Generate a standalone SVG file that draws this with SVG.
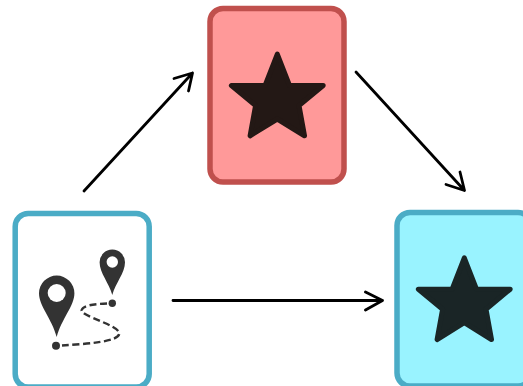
<svg xmlns="http://www.w3.org/2000/svg" width="523" height="386" viewBox="0 0 523 386">
<style>
.box{stroke-width:5.5}
.star{stroke-linejoin:round;stroke-width:5}
.conn{fill:none;stroke:#000;stroke-width:2.8;stroke-linecap:round;stroke-linejoin:round}
.pin{fill:#333}
</style>
<defs>
<polygon id="star" points="277.3,54.2 289.5,85.5 323.2,85.5 299,105.5 304.5,135.8 277.3,119 250.1,135.8 255.6,105.5 231.4,85.5 265.1,85.5"/>
</defs>
<rect width="523" height="386" fill="#fff"/>
<g id="node-route">
<rect class="box" x="15.2" y="213.5" width="134" height="173.5" rx="13" fill="#fff" stroke="#4bacc6"/>
<path class="pin" d="M56.7 337 C52 319 39 306 39 293.3 A17.7 17.7 0 0 1 74.4 293.3 C74.4 306 61.5 319 56.7 337Z"/>
<circle cx="56.7" cy="293" r="9" fill="#fff"/>
<path class="pin" d="M112.3 295 C109 283 99.6 273 99.6 262.3 A12.7 12.7 0 0 1 125 262.3 C125 273 115.5 283 112.3 295Z"/>
<circle cx="112.3" cy="262" r="5.7" fill="#fff"/>
<circle class="pin" cx="56" cy="345.7" r="4"/>
<circle class="pin" cx="112.3" cy="303.3" r="3.7"/>
<path d="M62 345.5 C85 344 119 342 119.3 333.5 C119 325 80 316 81.7 310 C83 305 95 304 108 303.5" fill="none" stroke="#333" stroke-width="2.4" stroke-dasharray="7 3.5"/>
</g>
<g id="node-red">
<rect class="box" x="210" y="8.5" width="134" height="173.5" rx="13" fill="#ff9999" stroke="#c0504d"/>
<use href="#star" class="star" fill="#231815" stroke="#231815"/>
</g>
<g id="node-cyan">
<rect class="box" x="397" y="212.5" width="134" height="173.5" rx="13" fill="#99f3ff" stroke="#4bacc6"/>
<use href="#star" class="star" x="187" y="203.7" fill="#1a2526" stroke="#1a2526"/>
</g>
<g id="connectors">
<path class="conn" d="M84 191 L192.5 73 M174 78.5 L192.5 73 L188.5 91"/>
<path class="conn" d="M356 72 L464.5 190.5 M460 172 L464.5 190.5 L446 184.5"/>
<path class="conn" d="M173 300.5 L382.5 300.5 M365.5 292 L382.5 300.5 L365.5 310"/>
</g>
</svg>
